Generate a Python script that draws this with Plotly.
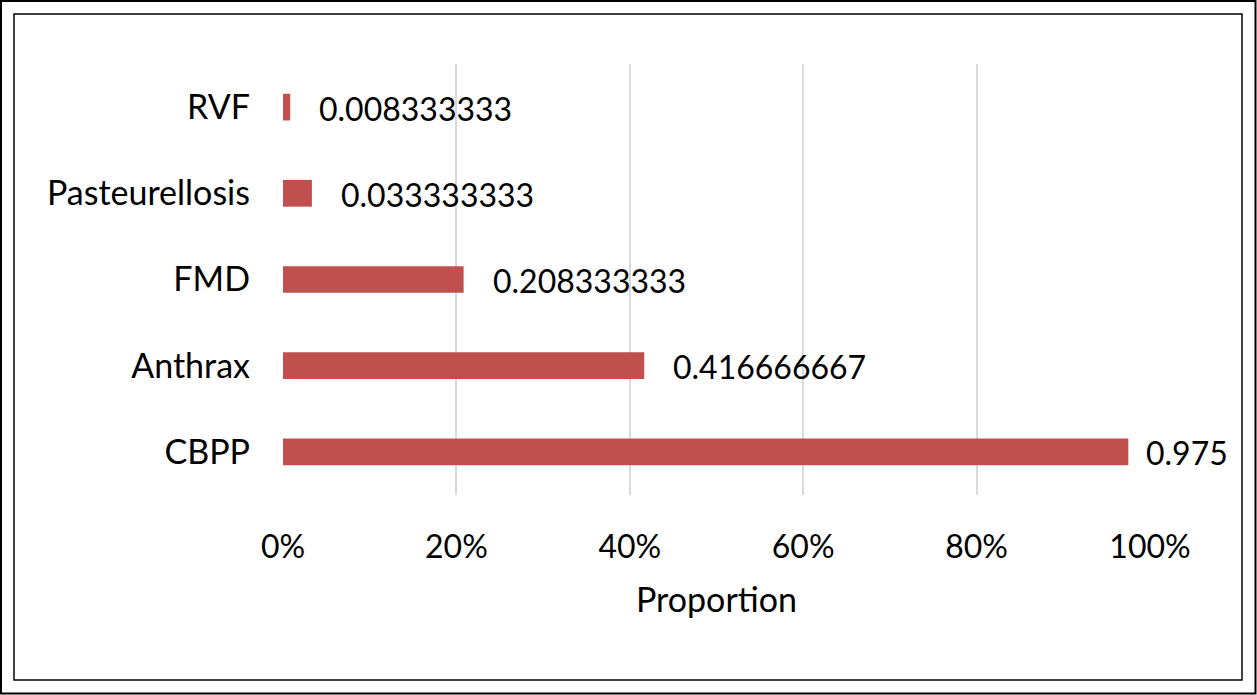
import plotly.graph_objects as go

categories = ["CBPP", "Anthrax", "FMD", "Pasteurellosis", "RVF"]
values = [0.975, 0.416666667, 0.208333333, 0.033333333, 0.008333333]
label_texts = ["0.975", "0.416666667", "0.208333333", "0.033333333", "0.008333333"]
x_ticks = [0, 0.2, 0.4, 0.6, 0.8, 1.0]
x_tick_labels = ["0%", "20%", "40%", "60%", "80%", "100%"]

W, H = 1257, 695
L, R, T, B = 283, 107, 64, 200
FONT = "Lato, Calibri, Carlito, sans-serif"

fig = go.Figure()
fig.add_trace(go.Bar(
    y=categories, x=values, orientation="h",
    marker=dict(color="#c0504d", line=dict(width=0)),
    width=0.31, hoverinfo="skip",
))

for cat, v, t in zip(categories, values, label_texts):
    fig.add_annotation(
        x=v, y=cat, xref="x", yref="y", text=t, showarrow=False,
        xanchor="left", yanchor="middle", xshift=(16 if v > 0.9 else 27), yshift=-1,
        font=dict(family=FONT, size=32, color="#000000"),
    )

def px2px(x):
    return (x - L) / (W - L - R)

def py2py(y):
    return 1 - (y - T) / (H - T - B)

for (x0, y0, x1, y1, w) in [(1, 1, 1255.5, 693.5, 2), (14, 14, 1242, 680, 1.5)]:
    fig.add_shape(type="rect", xref="paper", yref="paper",
                  x0=px2px(x0), x1=px2px(x1), y0=py2py(y1), y1=py2py(y0),
                  line=dict(color="#000000", width=w), fillcolor="rgba(0,0,0,0)")

fig.update_layout(
    width=W, height=H,
    margin=dict(l=L, r=R, t=T, b=B),
    paper_bgcolor="white", plot_bgcolor="white",
    showlegend=False,
    font=dict(family=FONT, size=32, color="#000000"),
    xaxis=dict(
        range=[0, 1.0], tickvals=x_ticks, ticktext=x_tick_labels,
        showgrid=True, gridcolor="#d9d9d9", gridwidth=2,
        zeroline=False, showline=False, ticks="",
        ticklabelstandoff=30,
        tickfont=dict(family=FONT, size=32, color="#000000"),
        title=dict(text="Proportion", standoff=24,
                   font=dict(family=FONT, size=34, color="#000000")),
    ),
    yaxis=dict(
        categoryorder="array", categoryarray=categories,
        showgrid=False, zeroline=False, showline=False, ticks="",
        ticklabelstandoff=32,
        tickfont=dict(family=FONT, size=34, color="#000000"),
    ),
)

fig.write_html("out.html")
